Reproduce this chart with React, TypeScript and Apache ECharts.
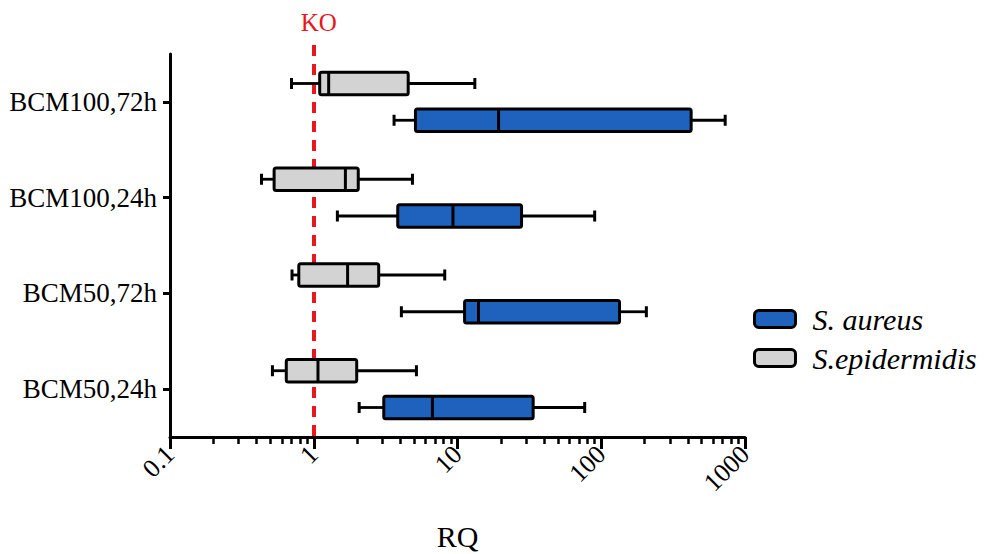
import React, { useEffect, useRef } from 'react';
import * as echarts from 'echarts';

const categories = ['BCM50,24h', 'BCM50,72h', 'BCM100,24h', 'BCM100,72h'];
// [min, q1, median, q3, max]
const aureus = [
  [2.07, 3.07, 6.69, 33.6, 76.7],
  [4.07, 11.2, 14.0, 134, 206],
  [1.46, 3.84, 9.3, 27.9, 90],
  [3.62, 5.1, 19.3, 422, 728],
];
const epidermidis = [
  [0.516, 0.644, 1.07, 1.99, 5.18],
  [0.706, 0.787, 1.72, 2.83, 8.15],
  [0.433, 0.53, 1.66, 2.04, 4.86],
  [0.7, 1.1, 1.27, 4.54, 13.2],
];
const minorTickValues = [
  0.2, 0.3, 0.4, 0.5, 0.6, 0.7, 0.8, 0.9,
  2, 3, 4, 5, 6, 7, 8, 9,
  20, 30, 40, 50, 60, 70, 80, 90,
  200, 300, 400, 500, 600, 700, 800, 900,
];
const koValue = 1;
const seriesNames = ['S. aureus', 'S.epidermidis'];

const FONT = "'Liberation Serif', 'Times New Roman', serif";
const BLUE = '#1f62be';
const GRAY = '#d3d3d3';
const RED = '#e8161e';

function makeRender(offsetRatio: number, fill: string) {
  return (params: any, api: any) => {
    const cat = api.value(0);
    const band = api.size([0, 1])[1];
    const cy = api.coord([api.value(3), cat])[1] + offsetRatio * band;
    const xs = [1, 2, 3, 4, 5].map((i) => api.coord([api.value(i), cat])[0]);
    const h = band * 0.235;
    const capH = band * 0.115;
    const thin = { stroke: '#000', lineWidth: 2.8 };
    const thick = { stroke: '#000', lineWidth: 3 };
    return {
      type: 'group',
      children: [
        { type: 'line', shape: { x1: xs[0], y1: cy, x2: xs[1], y2: cy }, style: thin },
        { type: 'line', shape: { x1: xs[3], y1: cy, x2: xs[4], y2: cy }, style: thin },
        { type: 'line', shape: { x1: xs[0], y1: cy - capH / 2, x2: xs[0], y2: cy + capH / 2 }, style: thick },
        { type: 'line', shape: { x1: xs[4], y1: cy - capH / 2, x2: xs[4], y2: cy + capH / 2 }, style: thick },
        {
          type: 'rect',
          shape: { x: xs[1], y: cy - h / 2, width: xs[3] - xs[1], height: h, r: 2 },
          style: { fill, stroke: '#000', lineWidth: 3 },
        },
        { type: 'line', shape: { x1: xs[2], y1: cy - h / 2, x2: xs[2], y2: cy + h / 2 }, style: thick },
      ],
    };
  };
}

export default function App() {
  const ref = useRef<HTMLDivElement>(null);
  useEffect(() => {
    document.body.style.margin = '0';
    if (!ref.current) return;
    const chart = echarts.init(ref.current, null, { renderer: 'svg' });
    const option: any = {
      animation: false,
      backgroundColor: '#fff',
      grid: { left: 170, right: 257, top: 54, bottom: 117, containLabel: false, outerBoundsMode: 'none' },
      legend: {
        orient: 'vertical',
        left: 748,
        top: 299,
        itemWidth: 41,
        itemHeight: 17,
        itemGap: 9,
        icon: 'roundRect',
        data: seriesNames,
        itemStyle: { borderColor: '#000', borderWidth: 3 },
        textStyle: { fontFamily: FONT, fontStyle: 'italic', fontSize: 30, color: '#000', padding: [0, 0, 0, 12] },
      },
      xAxis: [
        {
          type: 'log',
          logBase: 10,
          min: 0.1,
          max: 1000,
          position: 'bottom',
          name: 'RQ',
          nameLocation: 'middle',
          nameGap: 84,
          nameTextStyle: { fontFamily: FONT, fontSize: 30, color: '#000' },
          axisLine: { show: true, onZero: false, lineStyle: { color: '#000', width: 3 } },
          axisTick: { show: true, length: 12, lineStyle: { color: '#000', width: 3 } },
          axisLabel: {
            rotate: 45,
            fontFamily: FONT,
            fontSize: 26,
            color: '#000',
            margin: 13,
            formatter: (v: number) => String(v),
          },
          splitLine: { show: false },
          minorTick: { show: false },
        },
        {
          type: 'value',
          min: -1,
          max: 3,
          position: 'bottom',
          axisLine: { show: false, onZero: false },
          axisLabel: { show: false },
          splitLine: { show: false },
          axisTick: {
            show: true,
            length: 7,
            customValues: minorTickValues.map((v) => Math.log10(v)),
            lineStyle: { color: '#000', width: 2.5 },
          },
        },
      ],
      yAxis: {
        type: 'category',
        data: categories,
        boundaryGap: true,
        axisLine: { show: true, onZero: false, lineStyle: { color: '#000', width: 3 } },
        axisTick: { show: true, alignWithLabel: true, length: 7, lineStyle: { color: '#000', width: 3 } },
        axisLabel: { fontFamily: FONT, fontSize: 27, color: '#000', margin: 13 },
        splitLine: { show: false },
      },
      series: [
        {
          name: seriesNames[1],
          type: 'custom',
          xAxisIndex: 0,
          yAxisIndex: 0,
          renderItem: makeRender(-0.192, GRAY),
          itemStyle: { color: GRAY, borderColor: '#000', borderWidth: 3 },
          encode: { x: [1, 2, 3, 4, 5], y: 0 },
          data: epidermidis.map((d, i) => [i, ...d]),
          z: 3,
        },
        {
          name: seriesNames[0],
          type: 'custom',
          xAxisIndex: 0,
          yAxisIndex: 0,
          renderItem: makeRender(0.192, BLUE),
          itemStyle: { color: BLUE, borderColor: '#000', borderWidth: 3 },
          encode: { x: [1, 2, 3, 4, 5], y: 0 },
          data: aureus.map((d, i) => [i, ...d]),
          z: 3,
          markLine: {
            silent: true,
            symbol: 'none',
            z: 2,
            lineStyle: { color: RED, width: 4, type: [11, 8] },
            label: {
              show: true,
              position: 'end',
              formatter: 'KO',
              color: RED,
              fontFamily: FONT,
              fontSize: 25,
              distance: 5,
              offset: [5, 0],
            },
            data: [[{ coord: [koValue, 0], y: 436 }, { coord: [koValue, 0], y: 40 }]],
          },
        },
      ],
    };
    chart.setOption(option);
    return () => chart.dispose();
  }, []);
  return <div ref={ref} style={{ width: 1002, height: 554 }} />;
}
